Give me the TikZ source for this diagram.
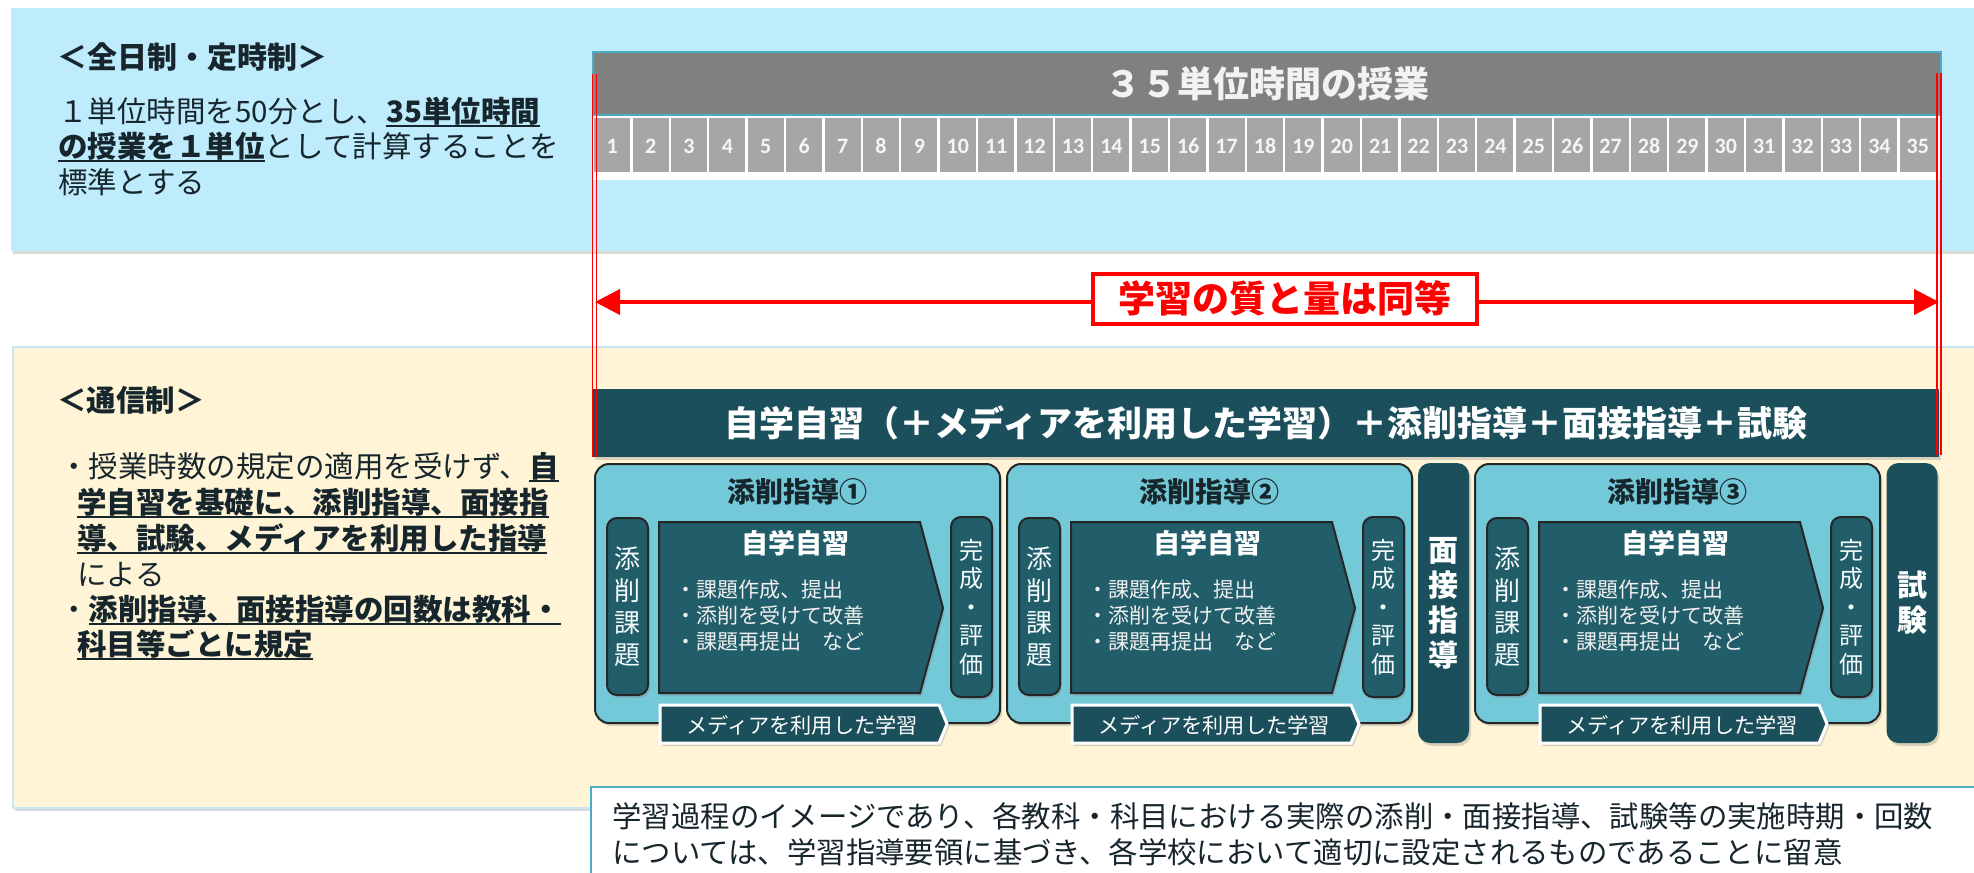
\documentclass[tikz,border=0pt]{standalone}
\usepackage{fontspec}
\setmainfont{Noto Sans CJK JP}
\newfontfamily\numfont{Carlito}
\usetikzlibrary{arrows.meta,shadows}
\definecolor{bluebg}{RGB}{190,236,252}
\definecolor{yelbg}{RGB}{255,245,214}
\definecolor{yelline}{RGB}{200,230,240}
\definecolor{barteal}{RGB}{27,79,91}
\definecolor{midteal}{RGB}{34,94,106}
\definecolor{ltteal}{RGB}{116,201,216}
\definecolor{txtdark}{RGB}{22,38,44}
\definecolor{gbar}{RGB}{128,128,128}
\definecolor{gcell}{RGB}{166,166,166}
\definecolor{cellnum}{RGB}{245,245,245}
\definecolor{edgeteal}{RGB}{75,172,198}
\definecolor{redc}{RGB}{255,0,0}
\newcommand\fsz[2]{\fontsize{#1}{#2}\selectfont}
\newcommand\myul[1]{\setbox0\hbox{\bfseries #1}\leavevmode\rlap{\rule[-0.17em]{\wd0}{0.075em}}\box0}
\tikzset{
  shadowed/.style={drop shadow={shadow xshift=1pt,shadow yshift=-1.5pt,opacity=0.3}},
  txt/.style={inner sep=0pt,text=txtdark},
  lefttxt/.style={txt,anchor=west,font=\fsz{14.75}{17}},
  grpbox/.style={fill=ltteal,draw=black!85,line width=1pt,rounded corners=7pt,minimum width=202.5pt,minimum height=129.5pt,inner sep=0pt,shadowed},
  colbox/.style={fill=barteal,rounded corners=6pt,minimum width=25.5pt,minimum height=140pt,inner sep=0pt,text=white,align=center,font=\bfseries\fsz{15}{17.5},shadowed},
  smallbox/.style={fill=midteal,draw=black!85,line width=1pt,rounded corners=5pt,minimum width=20.5pt,inner sep=0pt,text=white!92!ltteal,align=center,shadowed},
  pent/.style={fill=midteal,draw=black!85,line width=1pt,shadowed},
  media/.style={fill=barteal,draw=white,line width=1.5pt,shadowed},
  redline/.style={draw=redc,line width=0.6pt},
}
\begin{document}
\begin{tikzpicture}[x=0.5pt,y={(0pt,-0.5pt)}]
\useasboundingbox (0,0) rectangle (1974,872);
% panels
\path[fill=bluebg,shadowed] (11,8) rectangle (1990,251);
\path[fill=yelbg,draw=yelline,line width=0.75pt,shadowed] (13,347) rectangle (1990,808);

% full-time text
\node[lefttxt,font=\bfseries\fsz{15}{17}] (ftitle) at (57,57) {＜全日制・定時制＞};
\node[lefttxt] (fl1) at (58,112) {１単位時間を50分とし、\myul{35単位時間}};
\node[lefttxt] (fl2) at (58,147) {\myul{の授業を１単位}として計算することを};
\node[lefttxt] (fl3) at (58,182) {標準とする};

% 35 unit bar
\node[fill=gbar,draw=edgeteal,line width=0.75pt,minimum width=674pt,minimum height=31.5pt,inner sep=0pt,
      text=white!95!black,font=\bfseries\fsz{18}{20}] (bar35) at (1267,83.5) {３５単位時間の授業};
\fill[white] (593,116) rectangle (1941,180);
\foreach \i in {1,...,35}{
  \pgfmathsetmacro\xa{593+(\i-1)*38.4}
  \fill[gcell] (\xa+1.2,118) rectangle (\xa+37.2,172);
  \node[inner sep=0pt,font=\numfont\bfseries\fsz{11}{12},text=cellnum] (c\i) at (\xa+19.2,146) {\i};
}

% correspondence text
\node[lefttxt,font=\bfseries\fsz{14.75}{17}] (ctitle) at (57,400) {＜通信制＞};
\node[lefttxt] (cl1) at (59,467) {・授業時数の規定の適用を受けず、\myul{自}};
\node[lefttxt] (cl2) at (77,503) {\myul{学自習を基礎に、添削指導、面接指}};
\node[lefttxt] (cl3) at (77,539) {\myul{導、試験、メディアを利用した指導}};
\node[lefttxt] (cl4) at (77,575) {による};
\node[lefttxt] (cl5) at (59,610) {・\myul{添削指導、面接指導の回数は教科・}};
\node[lefttxt] (cl6) at (77,645) {\myul{科目等ごとに規定}};

% dark bar
\node[fill=barteal,minimum width=673pt,minimum height=34pt,inner sep=0pt,text=white,
      font=\bfseries\fsz{17.5}{19},shadowed] (darkbar) at (1266,423)
  {自学自習（＋メディアを利用した学習）＋添削指導＋面接指導＋試験};

% groups
\foreach \L/\i/\n in {595/1/①,1007/2/②,1475/3/③}{
  \node[grpbox] (grp\i) at (\L+202.5,593.5) {};
  \node[txt,font=\bfseries\fsz{14}{16}] (gt\i) at (\L+202.5,492) {添削指導\n};
  \node[smallbox,minimum height=88.5pt,font=\fsz{13}{16}] (tk\i) at (\L+32.5,606.5) {添\\削\\課\\題};
  \path[pent] (\L+64,522) -- (\L+325,522) -- (\L+348,608) -- (\L+325,693) -- (\L+64,693) -- cycle;
  \node[inner sep=0pt,text=white,font=\bfseries\fsz{13.5}{15}] (jj\i) at (\L+200,543) {自学自習};
  \node[inner sep=0pt,anchor=west,text=white!94!black,font=\fsz{10.5}{12}] (ba\i) at (\L+80,590) {・課題作成、提出};
  \node[inner sep=0pt,anchor=west,text=white!94!black,font=\fsz{10.5}{12}] (bb\i) at (\L+80,616) {・添削を受けて改善};
  \node[inner sep=0pt,anchor=west,text=white!94!black,font=\fsz{10.5}{12}] (bc\i) at (\L+80,642) {・課題再提出　など};
  \node[smallbox,minimum height=90pt,font=\fsz{12}{14.25}] (kh\i) at (\L+376.5,607) {完\\成\\・\\評\\価};
  \path[media] (\L+65,705) -- (\L+344,705) -- (\L+352,724) -- (\L+344,743) -- (\L+65,743) -- cycle;
  \node[inner sep=0pt,text=white,font=\fsz{10.6}{12}] (md\i) at (\L+207,725) {メディアを利用した学習};
}
\node[colbox] (mensetsu) at (1443.5,603) {面\\接\\指\\導};
\node[colbox] (shiken) at (1912,603) {試\\験};

% note box
\path[fill=white,draw=edgeteal,line width=1pt] (591,787) rectangle (1990,890);
\node[lefttxt,font=\fsz{14.7}{17}] (n1) at (612,816) {学習過程のイメージであり、各教科・科目における実際の添削・面接指導、試験等の実施時期・回数};
\node[lefttxt,font=\fsz{14.7}{17}] (n2) at (612,852) {については、学習指導要領に基づき、各学校において適切に設定されるものであることに留意};

% red lines and arrow
\coordinate (rl1t) at (592.5,74); \coordinate (rl1b) at (592.5,457);
\coordinate (rl2t) at (596.5,74); \coordinate (rl2b) at (596.5,457);
\coordinate (rr1t) at (1937,73); \coordinate (rr1b) at (1937,455);
\coordinate (rr2t) at (1941,73); \coordinate (rr2b) at (1941,455);
\draw[redline] (rl1t) -- (rl1b);
\draw[redline] (rl2t) -- (rl2b);
\draw[redline] (rr1t) -- (rr1b);
\draw[redline] (rr2t) -- (rr2b);
\coordinate (aL) at (595,302);
\coordinate (aR) at (1939,302);
\draw[redc,line width=2pt,{Triangle[length=12.5pt,width=12.5pt]}-{Triangle[length=12.5pt,width=12.5pt]}] (aL) -- (aR);
\node[fill=white,draw=redc,line width=2pt,minimum width=192pt,minimum height=25pt,inner sep=0pt,
      text=redc,font=\bfseries\fsz{18.5}{20}] (equal) at (1284.5,298.5) {学習の質と量は同等};
\end{tikzpicture}
\end{document}
